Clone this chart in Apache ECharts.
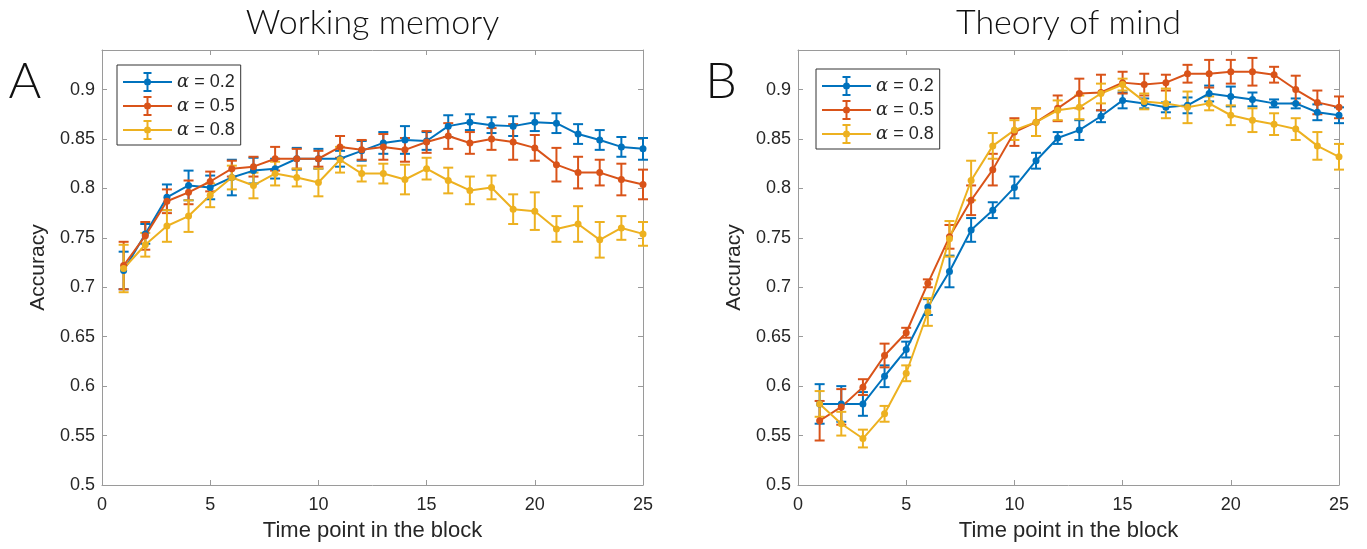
<!DOCTYPE html>
<html>
<head>
<meta charset="utf-8">
<script src="https://cdn.jsdelivr.net/npm/echarts@6/dist/echarts.min.js"></script>
<style>html,body{margin:0;padding:0;background:#fff}#c{width:1367px;height:549px}</style>
</head>
<body>
<div id="c"></div>
<script>
// ---------- data ----------
const timePoints = [1,2,3,4,5,6,7,8,9,10,11,12,13,14,15,16,17,18,19,20,21,22,23,24,25];
const seriesNames = ['α = 0.2', 'α = 0.5', 'α = 0.8'];
const xTicks = [0, 5, 10, 15, 20, 25];
const yTicks = [0.5, 0.55, 0.6, 0.65, 0.7, 0.75, 0.8, 0.85, 0.9];
const panelTitles = ['Working memory', 'Theory of mind'];
const panelLetters = ['A', 'B'];

// Working memory (panel A)
const wmA02 = [0.717,0.754,0.791,0.803,0.801,0.811,0.818,0.820,0.830,0.830,0.830,0.838,0.846,0.849,0.848,0.863,0.867,0.864,0.863,0.867,0.866,0.855,0.849,0.842,0.840];
const wmA02Err = [0.019,0.010,0.013,0.015,0.012,0.018,0.013,0.010,0.011,0.010,0.008,0.010,0.011,0.014,0.009,0.011,0.008,0.008,0.010,0.009,0.010,0.010,0.010,0.010,0.011];
const wmA05 = [0.722,0.752,0.787,0.796,0.807,0.820,0.822,0.830,0.830,0.830,0.842,0.839,0.842,0.839,0.847,0.853,0.846,0.850,0.847,0.841,0.824,0.816,0.816,0.809,0.804];
const wmA05Err = [0.024,0.014,0.012,0.012,0.010,0.008,0.010,0.012,0.010,0.008,0.011,0.010,0.013,0.012,0.011,0.013,0.011,0.011,0.018,0.013,0.017,0.016,0.013,0.016,0.015];
const wmA08 = [0.719,0.743,0.762,0.772,0.793,0.811,0.803,0.815,0.811,0.806,0.829,0.815,0.815,0.809,0.820,0.808,0.798,0.801,0.779,0.777,0.759,0.764,0.748,0.760,0.754];
const wmA08Err = [0.024,0.012,0.016,0.016,0.012,0.012,0.013,0.012,0.009,0.014,0.013,0.008,0.010,0.015,0.011,0.013,0.014,0.012,0.015,0.019,0.013,0.018,0.018,0.012,0.012];

// Theory of mind (panel B)
const tomA02 = [0.582,0.582,0.582,0.610,0.637,0.680,0.716,0.758,0.778,0.801,0.828,0.851,0.859,0.873,0.889,0.886,0.882,0.884,0.896,0.893,0.890,0.886,0.886,0.877,0.874];
const tomA02Err = [0.020,0.018,0.012,0.011,0.008,0.008,0.016,0.012,0.008,0.011,0.008,0.006,0.010,0.006,0.008,0.005,0.005,0.008,0.008,0.010,0.007,0.004,0.005,0.008,0.008];
const tomA05 = [0.565,0.579,0.599,0.631,0.654,0.704,0.751,0.788,0.819,0.857,0.867,0.881,0.896,0.897,0.907,0.905,0.907,0.916,0.916,0.918,0.918,0.915,0.900,0.887,0.882];
const tomA05Err = [0.020,0.018,0.008,0.012,0.005,0.004,0.012,0.015,0.016,0.014,0.014,0.013,0.015,0.018,0.011,0.011,0.008,0.009,0.014,0.012,0.014,0.008,0.014,0.012,0.011];
const tomA08 = [0.582,0.562,0.547,0.572,0.613,0.675,0.749,0.808,0.843,0.859,0.867,0.879,0.882,0.896,0.905,0.888,0.886,0.882,0.886,0.874,0.869,0.865,0.860,0.843,0.832];
const tomA08Err = [0.013,0.012,0.009,0.008,0.008,0.014,0.018,0.020,0.013,0.010,0.014,0.010,0.012,0.010,0.006,0.008,0.015,0.016,0.007,0.010,0.012,0.011,0.011,0.014,0.013];

// ---------- styling ----------
const colors = ['#0072BD', '#D95319', '#EDB120'];
const axisGray = '#9a9a9a';
const textCol = '#262626';
const grids = [
  {left: 102, top: 50, width: 541, height: 435},
  {left: 798, top: 50, width: 541, height: 435}
];
const panels = [
  {means: [wmA02, wmA05, wmA08], errs: [wmA02Err, wmA05Err, wmA08Err]},
  {means: [tomA02, tomA05, tomA08], errs: [tomA02Err, tomA05Err, tomA08Err]}
];

const ICON = 'path://M0,9h49v2h-49z M23.5,1h2v18h-2z M20.5,0h8v2h-8z M20.5,18h8v2h-8z M28,10A3.5,3.5 0 1,1 21,10A3.5,3.5 0 1,1 28,10z';

function errRender(params, api) {
  const x = api.value(0), lo = api.value(1), hi = api.value(2);
  const pLo = api.coord([x, lo]);
  const pHi = api.coord([x, hi]);
  const hw = 5;
  const style = {stroke: api.visual('color'), lineWidth: 2, fill: null};
  return {
    type: 'group',
    children: [
      {type: 'line', shape: {x1: pLo[0], y1: pLo[1], x2: pHi[0], y2: pHi[1]}, style: style},
      {type: 'line', shape: {x1: pLo[0] - hw, y1: pLo[1], x2: pLo[0] + hw, y2: pLo[1]}, style: style},
      {type: 'line', shape: {x1: pHi[0] - hw, y1: pHi[1], x2: pHi[0] + hw, y2: pHi[1]}, style: style}
    ]
  };
}

const xAxes = [], yAxes = [], series = [], legends = [], graphics = [];
const fmtY = v => String(+v.toFixed(2));

grids.forEach((g, gi) => {
  const baseX = {
    gridIndex: gi, type: 'value', min: xTicks[0], max: xTicks[xTicks.length - 1],
    interval: xTicks[1] - xTicks[0],
    axisLine: {show: true, onZero: false, lineStyle: {color: axisGray, width: 1}},
    axisTick: {show: true, inside: true, length: 5, lineStyle: {color: axisGray}},
    splitLine: {show: false}
  };
  xAxes.push(Object.assign({}, baseX, {
    position: 'bottom',
    name: 'Time point in the block', nameLocation: 'middle', nameGap: 35,
    nameTextStyle: {fontSize: 22, color: textCol, fontFamily: 'Liberation Sans'},
    axisLabel: {show: true, margin: 11, fontSize: 18, color: textCol, fontFamily: 'Liberation Sans'}
  }));
  xAxes.push(Object.assign({}, baseX, {position: 'top', axisLabel: {show: false}}));

  const baseY = {
    gridIndex: gi, type: 'value', min: yTicks[0], max: 0.94,
    interval: yTicks[1] - yTicks[0],
    axisLine: {show: true, onZero: false, lineStyle: {color: axisGray, width: 1}},
    axisTick: {show: true, inside: true, length: 5, lineStyle: {color: axisGray}},
    splitLine: {show: false}
  };
  yAxes.push(Object.assign({}, baseY, {
    position: 'left',
    name: 'Accuracy', nameLocation: 'middle', nameGap: 53,
    nameTextStyle: {fontSize: 21, color: textCol, fontFamily: 'Liberation Sans'},
    axisLabel: {show: true, margin: 7, fontSize: 18, color: textCol, fontFamily: 'Liberation Sans',
      showMaxLabel: false, formatter: fmtY}
  }));
  yAxes.push(Object.assign({}, baseY, {position: 'right', axisLabel: {show: false}}));

  const p = panels[gi];
  seriesNames.forEach((nm, si) => {
    const m = p.means[si], e = p.errs[si];
    series.push({
      type: 'custom', name: nm, xAxisIndex: gi * 2, yAxisIndex: gi * 2,
      renderItem: errRender, itemStyle: {color: colors[si]},
      encode: {x: 0, y: [1, 2]},
      data: timePoints.map((t, k) => [t, m[k] - e[k], m[k] + e[k]]),
      silent: true
    });
    series.push({
      type: 'line', name: nm, xAxisIndex: gi * 2, yAxisIndex: gi * 2,
      data: timePoints.map((t, k) => [t, m[k]]),
      symbol: 'circle', symbolSize: 7, showSymbol: true,
      lineStyle: {width: 2, color: colors[si]},
      itemStyle: {color: colors[si]},
      silent: true
    });
  });

  legends.push({
    left: gi === 0 ? 117 : 816, top: gi === 0 ? 65 : 69,
    orient: 'vertical', itemWidth: 49, itemHeight: 20, itemGap: 4, itemTextGap: 5,
    padding: [7, 6, 5, 6],
    borderColor: '#333', borderWidth: 1, backgroundColor: '#fff',
    icon: ICON, itemStyle: {borderWidth: 0},
    selectedMode: false,
    data: seriesNames,
    formatter: n => '{a|α}' + n.slice(1),
    textStyle: {fontSize: 18, color: textCol, fontFamily: 'Liberation Sans',
      rich: {a: {fontFamily: 'DejaVu Serif', fontStyle: 'italic', fontSize: 18, color: textCol}}}
  });

  graphics.push({
    type: 'text', x: g.left + g.width / 2, y: 23,
    style: {text: panelTitles[gi], fontSize: 34, fontWeight: 300, fontFamily: 'Lato', fill: '#111', align: 'center', verticalAlign: 'middle'}
  });
  graphics.push({
    type: 'text', x: gi === 0 ? 25 : 721, y: 82,
    style: {text: panelLetters[gi], fontSize: 50, fontWeight: 300, fontFamily: 'Lato', fill: '#111', align: 'center', verticalAlign: 'middle'}
  });
});

const chart = echarts.init(document.getElementById('c'), null, {renderer: 'canvas'});
chart.setOption({
  animation: false,
  backgroundColor: '#fff',
  grid: grids,
  xAxis: xAxes,
  yAxis: yAxes,
  legend: legends,
  series: series,
  graphic: graphics
});
</script>
</body>
</html>
